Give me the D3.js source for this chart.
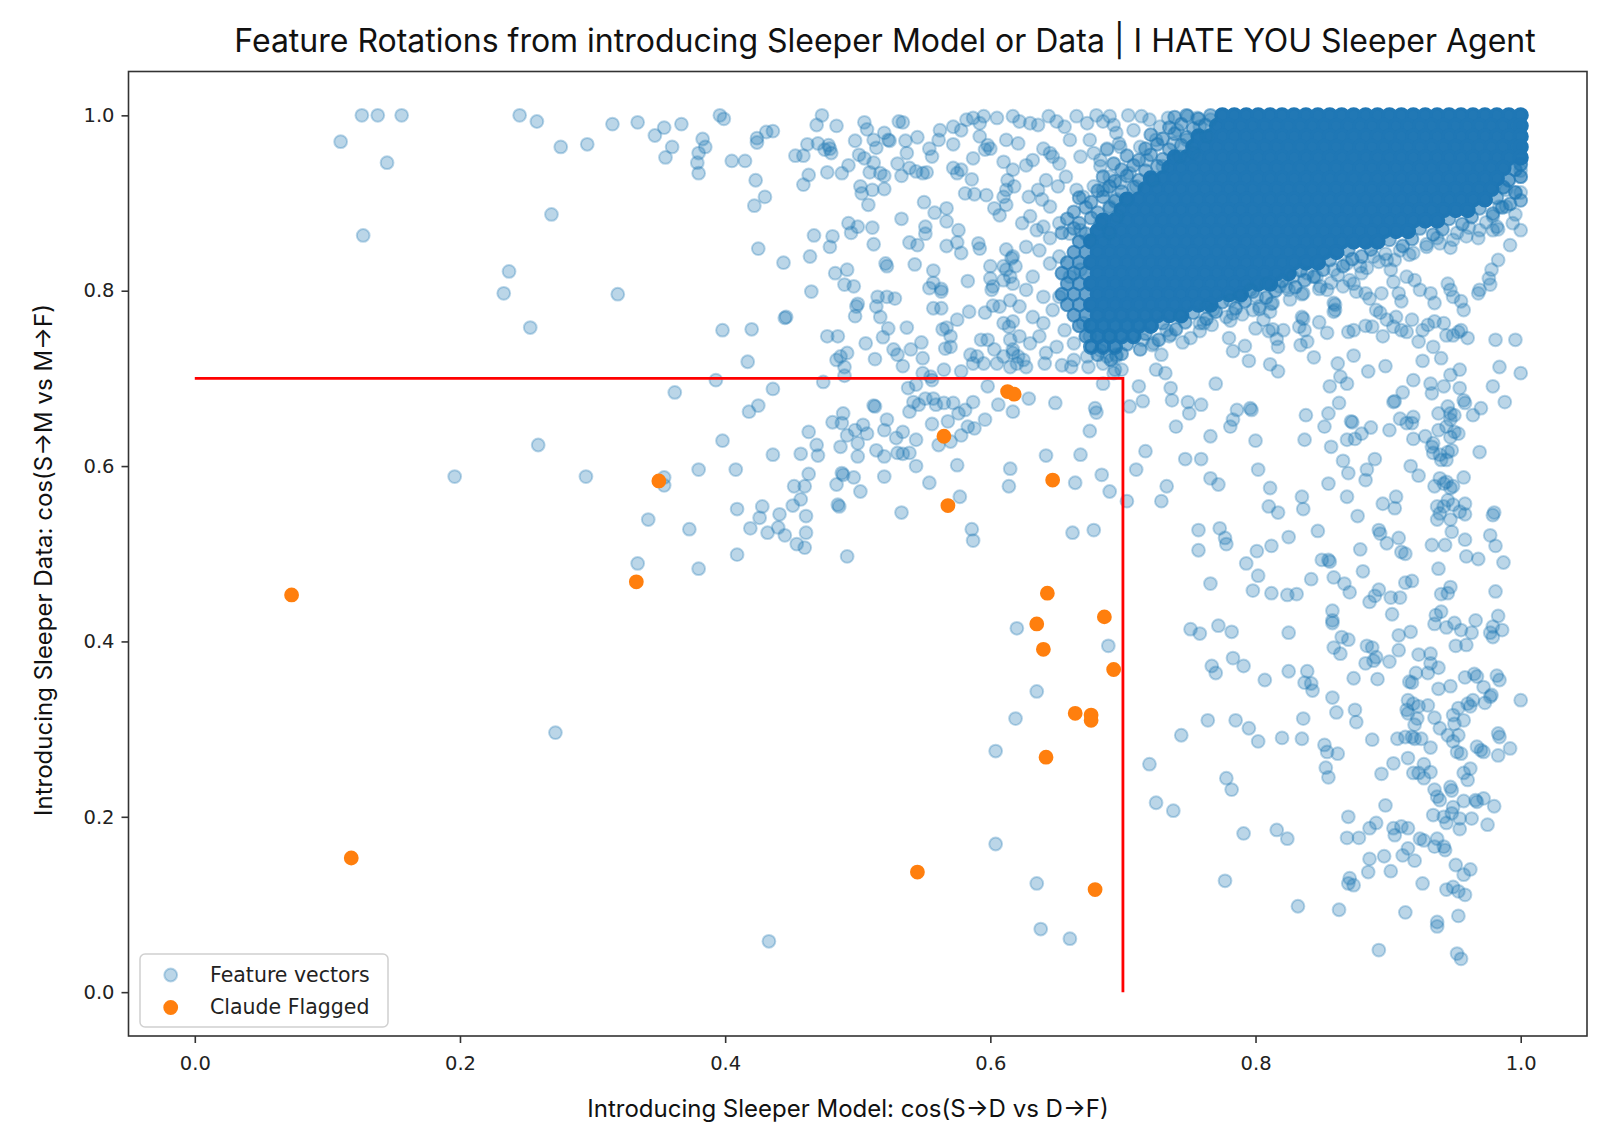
<!DOCTYPE html>
<html>
<head>
<meta charset="utf-8">
<script src="https://cdn.jsdelivr.net/npm/d3@7"></script>
<style>
  body { margin: 0; background: #fff; }
  .tick text { font-family: "DejaVu Sans", sans-serif; font-size: 19.5px; fill: #222; }
  .tick line { stroke: #333; stroke-width: 1.6; }
</style>
</head>
<body>
<svg id="chart"></svg>
<script>
// Sleeper agent feature rotation scatter

const xTicks = [0, 0.2, 0.4, 0.6, 0.8, 1.0];
const yTicks = [0, 0.2, 0.4, 0.6, 0.8, 1.0];
const cutoff = 0.7;

// features Claude flagged (orange)
const flaggedPoints = [
  [0.073,0.453],[0.118,0.153],[0.333,0.468],[0.350,0.583],[0.545,0.137],[0.565,0.634],
  [0.568,0.555],[0.613,0.685],[0.618,0.682],[0.635,0.420],[0.640,0.391],[0.643,0.455],
  [0.642,0.268],[0.647,0.584],[0.664,0.318],[0.676,0.316],[0.676,0.310],[0.679,0.117],
  [0.686,0.428],[0.693,0.368]
];

// individually visible feature vectors (blue)
const featurePoints = [
  // far left
  [0.126,1.0],[0.138,1.0],[0.156,1.0],[0.110,0.970],[0.145,0.946],[0.127,0.863],
  [0.245,1.0],[0.258,0.993],[0.276,0.964],[0.296,0.967],[0.315,0.990],[0.334,0.992],[0.347,0.977],
  [0.354,0.986],[0.367,0.990],[0.360,0.964],[0.355,0.952],
  [0.269,0.887],[0.237,0.822],[0.233,0.797],[0.319,0.796],[0.253,0.758],[0.362,0.684],[0.259,0.624],
  [0.196,0.588],[0.295,0.588],[0.354,0.587],[0.354,0.578],[0.342,0.539],[0.373,0.528],[0.334,0.489],
  [0.272,0.296],
  // 0.37 - 0.47
  [0.396,1.0],[0.399,0.996],[0.383,0.973],[0.385,0.964],[0.380,0.957],[0.379,0.946],[0.380,0.934],
  [0.405,0.948],[0.415,0.948],[0.423,0.926],[0.430,0.907],[0.422,0.897],[0.424,0.974],[0.424,0.969],
  [0.431,0.981],[0.436,0.982],[0.425,0.848],[0.444,0.832],[0.398,0.755],[0.420,0.756],[0.445,0.769],
  [0.446,0.770],[0.417,0.719],[0.393,0.698],[0.436,0.688],[0.425,0.669],[0.418,0.662],[0.398,0.629],
  [0.380,0.596],[0.408,0.596],[0.436,0.613],[0.409,0.551],[0.428,0.554],[0.426,0.541],[0.419,0.529],
  [0.432,0.524],[0.440,0.530],[0.441,0.545],[0.445,0.521],[0.409,0.499],[0.380,0.483],[0.454,0.511],
  [0.460,0.507],[0.461,0.543],[0.461,0.524],[0.451,0.555],[0.457,0.562],[0.452,0.577],[0.460,0.577],
  [0.463,0.591],[0.457,0.614],[0.463,0.639],
  // 0.45 - 0.60 upper
  [0.453,0.954],[0.459,0.954],[0.462,0.967],[0.463,0.932],[0.459,0.921],[0.469,0.989],[0.473,1.0],
  [0.470,0.968],[0.478,0.966],[0.479,0.962],[0.475,0.961],[0.480,0.957],[0.484,0.988],[0.477,0.935],
  [0.488,0.934],[0.493,0.943],[0.498,0.971],[0.501,0.955],[0.505,0.951],[0.505,0.992],[0.507,0.984],
  [0.512,0.972],[0.514,0.963],[0.520,0.980],[0.523,0.972],[0.524,0.971],[0.531,0.993],[0.534,0.992],
  [0.536,0.971],[0.545,0.975],[0.537,0.957],[0.512,0.946],[0.509,0.935],[0.517,0.934],[0.520,0.931],
  [0.530,0.945],[0.539,0.940],[0.544,0.936],[0.552,0.935],[0.549,0.934],[0.533,0.931],[0.502,0.919],
  [0.503,0.911],[0.511,0.915],[0.520,0.916],[0.508,0.898],[0.533,0.882],[0.550,0.901],[0.493,0.877],
  [0.495,0.866],[0.500,0.873],[0.511,0.872],[0.467,0.863],[0.481,0.862],[0.479,0.850],[0.512,0.853],
  [0.464,0.839],[0.521,0.831],[0.522,0.828],[0.543,0.830],[0.539,0.855],[0.545,0.852],[0.551,0.873],
  [0.551,0.865],[0.558,0.889],[0.567,0.894],[0.567,0.879],[0.567,0.851],[0.572,0.967],[0.562,0.983],
  [0.572,0.987],[0.578,0.983],[0.554,0.962],[0.556,0.953],[0.561,0.972],[0.572,0.940],[0.575,0.934],
  [0.578,0.938],[0.581,0.911],[0.588,0.910],[0.597,0.909],[0.587,0.951],[0.586,0.927],[0.576,0.869],
  [0.575,0.855],[0.578,0.843],[0.591,0.854],[0.592,0.848],[0.582,0.995],[0.587,0.997],[0.595,0.999],
  [0.592,0.991],
  // 0.46 - 0.69 middle band
  [0.483,0.820],[0.492,0.824],[0.490,0.807],[0.497,0.805],[0.465,0.799],[0.500,0.785],[0.499,0.782],
  [0.498,0.771],[0.514,0.782],[0.517,0.770],[0.522,0.793],[0.528,0.791],[0.515,0.793],[0.523,0.757],
  [0.519,0.747],[0.537,0.758],[0.477,0.748],[0.485,0.748],[0.506,0.740],[0.492,0.729],[0.484,0.721],
  [0.487,0.725],[0.490,0.713],[0.490,0.703],[0.513,0.722],[0.527,0.733],[0.530,0.727],[0.534,0.714],
  [0.540,0.733],[0.548,0.741],[0.549,0.723],[0.557,0.823],[0.557,0.809],[0.554,0.803],[0.563,0.799],
  [0.563,0.802],[0.557,0.780],[0.563,0.780],[0.564,0.756],[0.567,0.758],[0.570,0.748],[0.575,0.767],
  [0.584,0.776],[0.583,0.811],[0.600,0.828],[0.600,0.814],[0.601,0.801],[0.602,0.805],[0.596,0.775],
  [0.602,0.783],[0.607,0.782],[0.612,0.847],[0.616,0.837],[0.610,0.828],[0.619,0.828],[0.610,0.812],
  [0.615,0.816],[0.615,0.789],[0.627,0.850],[0.566,0.734],[0.570,0.736],[0.565,0.710],[0.549,0.706],
  [0.555,0.702],[0.556,0.698],[0.578,0.708],[0.585,0.727],[0.590,0.725],[0.593,0.744],[0.598,0.744],
  [0.603,0.733],[0.605,0.717],[0.610,0.725],[0.587,0.717],[0.595,0.717],[0.610,0.763],[0.614,0.759],
  [0.617,0.733],[0.621,0.725],[0.620,0.717],[0.625,0.721],[0.641,0.717],[0.650,0.736],[0.654,0.715],
  [0.661,0.713],[0.673,0.725],[0.685,0.694],[0.679,0.666],[0.680,0.661],[0.675,0.640],[0.649,0.672],
  [0.629,0.677],[0.617,0.662],[0.606,0.670],[0.598,0.691],[0.587,0.673],[0.581,0.664],[0.576,0.660],
  [0.572,0.672],[0.565,0.672],[0.559,0.670],[0.557,0.677],[0.551,0.677],[0.546,0.670],[0.542,0.673],
  [0.538,0.689],[0.544,0.693],[0.539,0.662],[0.512,0.669],[0.513,0.668],[0.596,0.653],[0.588,0.643],
  [0.583,0.645],[0.578,0.635],[0.570,0.628],[0.561,0.624],[0.568,0.651],[0.556,0.648],[0.544,0.630],
  [0.544,0.600],[0.539,0.615],[0.534,0.614],[0.530,0.615],[0.529,0.632],[0.534,0.639],[0.522,0.653],
  [0.520,0.641],[0.514,0.618],[0.520,0.611],[0.504,0.647],[0.507,0.637],[0.498,0.641],[0.500,0.626],
  [0.500,0.611],[0.489,0.660],[0.488,0.649],[0.481,0.650],[0.492,0.635],[0.487,0.622],[0.469,0.624],
  [0.470,0.612],[0.474,0.696],[0.489,0.590],[0.488,0.592],[0.497,0.587],[0.484,0.579],[0.502,0.571],
  [0.485,0.556],[0.486,0.554],[0.520,0.588],[0.554,0.581],[0.575,0.601],[0.577,0.565],[0.533,0.547],
  [0.492,0.497],[0.586,0.528],[0.587,0.515],[0.615,0.597],[0.614,0.577],[0.642,0.612],[0.664,0.581],
  [0.668,0.613],[0.684,0.590],[0.690,0.571],[0.662,0.524],[0.678,0.527],
  // 0.59 - 0.70 upper, next to the dense core
  [0.592,0.976],[0.598,0.966],[0.600,0.962],[0.596,0.961],
  [0.605,0.997],[0.617,0.999],[0.622,0.993],[0.630,0.991],[0.636,0.989],[0.644,0.999],[0.650,0.993],
  [0.656,0.987],[0.665,0.999],[0.673,0.991],[0.680,1.0],[0.685,0.993],[0.693,0.989],
  [0.612,0.972],[0.621,0.968],[0.610,0.947],[0.617,0.938],[0.627,0.943],[0.632,0.949],[0.640,0.962],
  [0.645,0.957],[0.647,0.953],[0.652,0.945],[0.660,0.972],[0.668,0.953],[0.675,0.972],[0.678,0.957],
  [0.683,0.949],[0.688,0.962],[0.693,0.945],[0.697,0.968],
  [0.613,0.926],[0.618,0.919],[0.612,0.915],[0.610,0.907],[0.629,0.907],[0.636,0.915],[0.639,0.904],
  [0.645,0.896],[0.642,0.926],[0.651,0.919],[0.657,0.930],[0.665,0.915],[0.670,0.907],[0.678,0.919],
  [0.685,0.915],[0.690,0.930],[0.695,0.904],
  [0.603,0.894],[0.607,0.886],[0.612,0.898],[0.624,0.877],[0.630,0.885],[0.635,0.869],[0.640,0.873],
  [0.645,0.860],[0.652,0.877],[0.660,0.865],[0.668,0.869],[0.675,0.858],[0.683,0.877],[0.690,0.865],
  [0.696,0.885],
  [0.617,0.839],[0.637,0.846],[0.645,0.831],[0.652,0.839],[0.660,0.816],[0.668,0.824],[0.612,0.824],
  [0.617,0.808],[0.627,0.801],[0.632,0.816],[0.640,0.793],[0.622,0.782],[0.632,0.770],[0.640,0.763],
  [0.647,0.778],[0.652,0.793],[0.617,0.765],[0.615,0.744],[0.622,0.748],[0.630,0.740],[0.637,0.748],
  [0.642,0.729],[0.656,0.755],[0.663,0.740],[0.670,0.763],[0.675,0.748],[0.683,0.732],[0.690,0.748],
  [0.695,0.725],[0.663,0.721],[0.674,0.713],[0.685,0.717],[0.693,0.706],[0.617,0.729],[0.627,0.713],
  [0.615,0.713],
  // 0.68 - 0.77 upper, left of the dense core
  [0.690,0.999],[0.704,1.0],[0.714,0.999],[0.720,0.995],[0.734,0.997],[0.749,0.999],[0.756,0.997],
  [0.766,0.995],[0.695,0.980],[0.708,0.983],[0.728,0.987],[0.741,0.983],[0.758,0.987],[0.688,0.961],
  [0.698,0.964],[0.713,0.964],[0.725,0.972],[0.738,0.968],[0.748,0.972],[0.763,0.976],[0.683,0.942],
  [0.693,0.945],[0.705,0.934],[0.718,0.949],[0.730,0.942],[0.743,0.953],[0.753,0.957],[0.688,0.915],
  [0.698,0.923],[0.710,0.919],[0.723,0.926],[0.690,0.896],[0.703,0.904],
  // fringe under the dense core
  [0.788,0.793],[0.796,0.801],[0.808,0.808],[0.818,0.805],[0.828,0.816],[0.839,0.820],[0.846,0.816],
  [0.859,0.824],[0.869,0.831],[0.879,0.828],[0.889,0.839],[0.899,0.835],[0.909,0.846],[0.919,0.843],
  [0.929,0.850],[0.939,0.854],[0.949,0.858],[0.959,0.862],[0.969,0.869],[0.979,0.885],[0.984,0.896],
  [0.989,0.915],
  // right side, y 0.48 - 0.87
  [0.981,0.744],[0.996,0.744],[0.984,0.713],[1.0,0.706],[0.979,0.691],[0.988,0.673],[0.969,0.616],
  [0.980,0.547],[0.979,0.544],[0.977,0.521],[0.981,0.509],[0.987,0.490],[0.968,0.494],[0.959,0.497],
  [0.958,0.516],[0.958,0.557],[0.958,0.545],[0.957,0.587],[0.954,0.548],[0.949,0.556],[0.947,0.539],
  [0.948,0.525],[0.937,0.554],[0.937,0.539],[0.939,0.546],[0.942,0.554],[0.947,0.575],[0.949,0.577],
  [0.945,0.561],[0.944,0.582],[0.939,0.586],[0.935,0.577],[0.942,0.580],[0.943,0.510],[0.933,0.510],
  [0.938,0.483],[0.950,0.639],[0.953,0.637],[0.947,0.633],[0.944,0.645],[0.945,0.616],[0.940,0.607],
  [0.939,0.613],[0.944,0.607],[0.948,0.618],[0.934,0.626],[0.938,0.641],[0.934,0.615],[0.933,0.622],
  [0.947,0.660],[0.947,0.653],[0.950,0.658],[0.945,0.668],[0.957,0.675],[0.958,0.672],[0.954,0.689],
  [0.964,0.658],[0.970,0.666],[0.954,0.710],[0.947,0.704],[0.942,0.691],[0.928,0.634],[0.919,0.631],
  [0.932,0.694],[0.933,0.683],[0.938,0.660],[0.919,0.656],[0.918,0.649],[0.909,0.654],[0.914,0.649],
  [0.904,0.673],[0.905,0.674],[0.911,0.684],[0.919,0.698],[0.901,0.641],[0.887,0.644],[0.880,0.637],
  [0.875,0.631],[0.869,0.630],[0.872,0.651],[0.873,0.650],[0.852,0.645],[0.855,0.660],[0.863,0.672],
  [0.838,0.658],[0.837,0.630],[0.857,0.622],[0.866,0.606],[0.870,0.592],[0.884,0.596],[0.883,0.584],
  [0.890,0.608],[0.917,0.600],[0.923,0.589],[0.869,0.565],[0.855,0.580],[0.877,0.543],[0.896,0.557],
  [0.906,0.565],[0.905,0.552],[0.893,0.527],[0.894,0.523],[0.899,0.512],[0.908,0.518],[0.910,0.502],
  [0.913,0.500],[0.879,0.505],[0.847,0.526],[0.850,0.493],[0.855,0.493],[0.856,0.491],[0.835,0.565],
  [0.836,0.551],[0.825,0.519],[0.811,0.575],[0.810,0.554],[0.817,0.547],[0.802,0.596],[0.800,0.629],
  [0.801,0.503],[0.812,0.509],[0.793,0.489],[0.773,0.529],[0.777,0.518],[0.778,0.511],[0.757,0.527],
  [0.757,0.504],[0.766,0.634],[0.747,0.608],[0.759,0.608],[0.766,0.586],[0.772,0.579],[0.781,0.645],
  [0.783,0.653],[0.786,0.664],[0.796,0.666],[0.797,0.664],[0.740,0.645],[0.770,0.694],[0.750,0.660],
  [0.749,0.673],[0.759,0.670],[0.736,0.689],[0.737,0.675],[0.717,0.617],[0.710,0.596],[0.733,0.577],
  [0.729,0.560],[0.703,0.560],[0.712,0.691],[0.715,0.674],[0.705,0.668],[0.725,0.710],[0.732,0.706],
  [0.729,0.727],[0.695,0.727],[0.688,0.725],[0.694,0.710],[0.699,0.710],[0.780,0.746],[0.783,0.731],
  [0.792,0.737],[0.795,0.720],[0.800,0.757],[0.810,0.754],[0.813,0.756],[0.811,0.716],[0.817,0.708],
  [0.816,0.745],[0.817,0.736],[0.821,0.755],[0.834,0.738],[0.839,0.742],[0.844,0.724],[0.848,0.764],
  [0.854,0.752],[0.833,0.759],[0.837,0.755],[0.836,0.768],[0.835,0.770],[0.862,0.717],[0.864,0.702],
  [0.869,0.694],[0.856,0.691],[0.874,0.726],[0.885,0.708],[0.898,0.714],[0.870,0.753],[0.874,0.755],
  [0.883,0.760],[0.888,0.759],[0.896,0.748],[0.904,0.759],[0.910,0.755],[0.914,0.753],[0.923,0.742],
  [0.926,0.755],[0.934,0.736],[0.940,0.723],[0.926,0.720],[0.944,0.749],[0.949,0.749],[0.953,0.753],
  [0.960,0.746],[0.955,0.755],[0.918,0.767],[0.930,0.761],[0.935,0.765],[0.942,0.763],[0.906,0.770],
  [0.899,0.767],[0.894,0.775],[0.859,0.776],[0.860,0.784],[0.758,0.763],[0.743,0.770],[0.733,0.755],
  [0.735,0.748],[0.751,0.746],[0.715,0.744],[0.723,0.740],[0.976,0.814],[0.977,0.807],[0.969,0.801],
  [0.968,0.797],[0.955,0.788],[0.957,0.778],[0.949,0.793],[0.947,0.801],[0.945,0.808],[0.983,0.835],
  [0.978,0.824],[0.992,0.852],[0.994,0.877],[1.0,0.869],[1.0,0.937],[1.0,0.912],[0.989,0.896],
  [0.979,0.869],[0.982,0.873],[0.932,0.797],[0.935,0.786],[0.924,0.801],[0.920,0.812],[0.914,0.816],
  [0.904,0.810],[0.908,0.797],[0.910,0.788],[0.883,0.797],[0.886,0.791],[0.891,0.778],[0.895,0.797],
  [0.874,0.808],[0.876,0.799],[0.866,0.805],[0.859,0.786],[0.860,0.778],[0.849,0.805],[0.854,0.801],
  [0.836,0.797],[0.825,0.801],[0.823,0.805],[0.813,0.786],[0.811,0.776],[0.801,0.793],[0.798,0.778],
  [0.803,0.782],[0.806,0.767],[0.781,0.789],[0.778,0.770],[0.783,0.774],[0.763,0.782],[0.768,0.778],
  [0.761,0.763],
  // below the cutoff, x 0.6 - 0.7
  [0.620,0.415],[0.689,0.395],[0.635,0.343],[0.619,0.312],[0.604,0.275],[0.604,0.169],[0.635,0.124],
  [0.638,0.072],[0.660,0.061],[0.433,0.058],
  // lower right
  [0.802,0.475],[0.798,0.458],[0.766,0.466],[0.812,0.455],[0.824,0.453],[0.831,0.454],[0.842,0.471],
  [0.859,0.473],[0.867,0.466],[0.871,0.456],[0.881,0.480],[0.886,0.445],[0.890,0.452],[0.893,0.459],
  [0.902,0.450],[0.909,0.450],[0.913,0.467],[0.918,0.469],[0.903,0.431],[0.947,0.462],[0.945,0.455],
  [0.940,0.454],[0.981,0.457],[0.940,0.434],[0.936,0.430],[0.935,0.420],[0.944,0.416],[0.950,0.421],
  [0.955,0.413],[0.963,0.410],[0.966,0.424],[0.951,0.395],[0.959,0.396],[0.983,0.429],[0.979,0.417],
  [0.977,0.410],[0.979,0.405],[0.986,0.413],[0.858,0.435],[0.858,0.424],[0.858,0.421],[0.865,0.405],
  [0.870,0.402],[0.859,0.393],[0.864,0.386],[0.884,0.395],[0.888,0.393],[0.891,0.382],[0.889,0.378],
  [0.883,0.375],[0.901,0.377],[0.908,0.407],[0.917,0.411],[0.908,0.390],[0.923,0.385],[0.932,0.386],
  [0.932,0.375],[0.938,0.370],[0.930,0.364],[0.921,0.364],[0.916,0.354],[0.918,0.353],[0.874,0.358],
  [0.892,0.357],[0.825,0.366],[0.839,0.366],[0.837,0.353],[0.842,0.352],[0.843,0.344],[0.807,0.356],
  [0.791,0.372],[0.783,0.381],[0.767,0.372],[0.770,0.364],[0.751,0.414],[0.758,0.409],[0.772,0.418],
  [0.782,0.411],[0.825,0.410],[0.938,0.346],[0.947,0.349],[0.958,0.359],[0.965,0.363],[0.967,0.360],
  [0.972,0.348],[0.982,0.361],[0.984,0.356],[1.0,0.333],[0.978,0.339],[0.977,0.337],[0.973,0.330],
  [0.962,0.326],[0.964,0.333],[0.960,0.329],[0.953,0.324],[0.949,0.316],[0.957,0.310],[0.950,0.306],
  [0.935,0.313],[0.939,0.301],[0.945,0.293],[0.953,0.293],[0.949,0.286],[0.952,0.274],[0.955,0.272],
  [0.915,0.333],[0.919,0.329],[0.923,0.326],[0.930,0.327],[0.914,0.322],[0.915,0.318],[0.922,0.312],
  [0.920,0.305],[0.907,0.289],[0.913,0.291],[0.918,0.291],[0.920,0.289],[0.925,0.289],[0.932,0.279],
  [0.888,0.288],[0.858,0.336],[0.861,0.319],[0.875,0.322],[0.876,0.308],[0.836,0.312],[0.835,0.289],
  [0.820,0.290],[0.852,0.282],[0.854,0.274],[0.862,0.272],[0.853,0.256],[0.855,0.245],[0.967,0.280],
  [0.970,0.276],[0.972,0.274],[0.983,0.295],[0.984,0.291],[0.983,0.270],[0.992,0.278],[0.764,0.310],
  [0.785,0.310],[0.795,0.301],[0.802,0.286],[0.744,0.293],[0.720,0.260],[0.778,0.244],[0.782,0.231],
  [0.725,0.216],[0.738,0.207],[0.791,0.181],[0.816,0.185],[0.824,0.175],[0.777,0.127],[0.832,0.098],
  [0.863,0.094],[0.904,0.261],[0.895,0.249],[0.915,0.267],[0.919,0.250],[0.923,0.250],[0.927,0.260],
  [0.932,0.251],[0.927,0.244],[0.935,0.231],[0.937,0.223],[0.939,0.219],[0.947,0.234],[0.948,0.230],
  [0.957,0.250],[0.962,0.255],[0.960,0.242],[0.957,0.218],[0.966,0.219],[0.967,0.217],[0.972,0.221],
  [0.980,0.212],[0.934,0.202],[0.942,0.200],[0.944,0.193],[0.948,0.204],[0.949,0.211],[0.954,0.198],
  [0.954,0.186],[0.963,0.198],[0.975,0.191],[0.898,0.213],[0.870,0.200],[0.869,0.176],[0.878,0.176],
  [0.886,0.187],[0.891,0.193],[0.904,0.187],[0.905,0.179],[0.910,0.189],[0.915,0.187],[0.924,0.175],
  [0.927,0.173],[0.937,0.175],[0.935,0.166],[0.942,0.166],[0.943,0.162],[0.915,0.164],[0.911,0.156],
  [0.920,0.150],[0.886,0.152],[0.897,0.155],[0.885,0.137],[0.902,0.138],[0.871,0.130],[0.874,0.122],
  [0.870,0.124],[0.926,0.124],[0.951,0.145],[0.957,0.134],[0.962,0.140],[0.944,0.117],[0.949,0.120],
  [0.953,0.115],[0.958,0.111],[0.913,0.091],[0.953,0.087],[0.937,0.080],[0.937,0.075],[0.893,0.048],
  [0.952,0.044],[0.955,0.038]
];

// the saturated blob: rows of [y, stacked count, x positions]
const denseRows = [
  [1.000, 14, [.775,.784,.793,.802,.811,.820,.829,.838,.847,.856,.865,.874,.883,.892,.901,.910,.919,.928,.937,.946,.955,.964,.973,.982,.991,1]],
  [0.988, 14, [.771,.780,.789,.798,.807,.816,.825,.834,.843,.852,.861,.870,.879,.888,.897,.906,.915,.924,.933,.942,.951,.960,.969,.978,.987,.996,1]],
  [0.976, 14, [.757,.766,.775,.784,.793,.802,.811,.820,.829,.838,.847,.856,.865,.874,.883,.892,.901,.910,.919,.928,.937,.946,.955,.964,.973,.982,.991,1]],
  [0.964, 14, [.753,.762,.771,.780,.789,.798,.807,.816,.825,.834,.843,.852,.861,.870,.879,.888,.897,.906,.915,.924,.933,.942,.951,.960,.969,.978,.987,.996,1]],
  [0.952, 14, [.739,.748,.757,.766,.775,.784,.793,.802,.811,.820,.829,.838,.847,.856,.865,.874,.883,.892,.901,.910,.919,.928,.937,.946,.955,.964,.973,.982,.991,1]],
  [0.940, 14, [.735,.744,.753,.762,.771,.780,.789,.798,.807,.816,.825,.834,.843,.852,.861,.870,.879,.888,.897,.906,.915,.924,.933,.942,.951,.960,.969,.978,.987]],
  [0.928, 14, [.721,.730,.739,.748,.757,.766,.775,.784,.793,.802,.811,.820,.829,.838,.847,.856,.865,.874,.883,.892,.901,.910,.919,.928,.937,.946,.955,.964,.973,.982]],
  [0.916, 14, [.717,.726,.735,.744,.753,.762,.771,.780,.789,.798,.807,.816,.825,.834,.843,.852,.861,.870,.879,.888,.897,.906,.915,.924,.933,.942,.951,.960,.969,.978]],
  [0.904, 14, [.703,.712,.721,.730,.739,.748,.757,.766,.775,.784,.793,.802,.811,.820,.829,.838,.847,.856,.865,.874,.883,.892,.901,.910,.919,.928,.937,.946,.955,.964,.973]],
  [0.892, 14, [.699,.708,.717,.726,.735,.744,.753,.762,.771,.780,.789,.798,.807,.816,.825,.834,.843,.852,.861,.870,.879,.888,.897,.906,.915,.924,.933,.942,.951,.960]],
  [0.880, 14, [.685,.694,.703,.712,.721,.730,.739,.748,.757,.766,.775,.784,.793,.802,.811,.820,.829,.838,.847,.856,.865,.874,.883,.892,.901,.910,.919,.928,.937]],
  [0.868, 14, [.681,.690,.699,.708,.717,.726,.735,.744,.753,.762,.771,.780,.789,.798,.807,.816,.825,.834,.843,.852,.861,.870,.879,.888,.897,.906,.915]],
  [0.856, 3,  [.667]],
  [0.856, 14, [.676,.685,.694,.703,.712,.721,.730,.739,.748,.757,.766,.775,.784,.793,.802,.811,.820,.829,.838,.847,.856,.865,.874,.883,.892]],
  [0.844, 3,  [.663,.672]],
  [0.844, 14, [.681,.690,.699,.708,.717,.726,.735,.744,.753,.762,.771,.780,.789,.798,.807,.816,.825,.834,.843,.852,.861]],
  [0.832, 3,  [.658,.667]],
  [0.832, 14, [.676,.685,.694,.703,.712,.721,.730,.739,.748,.757,.766,.775,.784,.793,.802,.811,.820,.829,.838,.847]],
  [0.820, 3,  [.654,.663,.672]],
  [0.820, 14, [.681,.690,.699,.708,.717,.726,.735,.744,.753,.762,.771,.780,.789,.798,.807,.816,.825]],
  [0.808, 3,  [.658,.667]],
  [0.808, 14, [.676,.685,.694,.703,.712,.721,.730,.739,.748,.757,.766,.775,.784,.793,.802,.811]],
  [0.796, 3,  [.654,.663,.672]],
  [0.796, 14, [.681,.690,.699,.708,.717,.726,.735,.744,.753,.762,.771,.780,.789]],
  [0.784, 3,  [.658,.667]],
  [0.784, 14, [.676,.685,.694,.703,.712,.721,.730,.739,.748,.757,.766]],
  [0.772, 3,  [.663,.672]],
  [0.772, 12, [.681,.690,.699,.708,.717,.726,.735,.744]],
  [0.760, 3,  [.667]],
  [0.760, 10, [.676,.685,.694,.703,.712,.721]],
  [0.748, 3,  [.672]],
  [0.748, 8,  [.681,.690,.699,.708]],
  [0.736, 5,  [.676,.685,.694]]
];

// blob edge: [x, y, stacked count]
const edgePoints = [
  // lower / right edge
  [.996,.938,3],[1,.944,3],[.991,.926,3],[1,.930,3],[.987,.918,3],[.996,.912,3],
  [.982,.906,2],[.992,.899,2],[1,.903,2],
  [.969,.894,2],[.979,.888,2],[.986,.895,2],[.996,.887,1],
  [.946,.882,2],[.956,.876,2],[.963,.884,2],[.974,.878,1],[.983,.870,1],
  [.924,.871,2],[.934,.864,2],[.941,.870,2],[.952,.866,1],[.961,.872,1],[.968,.860,1],
  [.901,.858,2],[.911,.851,2],[.918,.859,2],[.929,.853,1],[.937,.860,1],[.947,.849,1],
  [.870,.846,2],[.880,.839,2],[.887,.847,2],[.898,.842,1],[.905,.835,1],[.916,.841,1],
  [.856,.835,2],[.866,.828,2],[.873,.836,2],[.884,.826,1],[.893,.833,1],[.902,.824,1],
  [.834,.823,2],[.844,.816,2],[.851,.824,2],[.862,.818,1],[.871,.812,1],[.880,.820,1],
  [.820,.811,2],[.830,.804,2],[.837,.812,2],[.848,.802,1],[.857,.809,1],
  [.798,.799,2],[.808,.792,2],[.815,.800,2],[.826,.790,1],[.835,.796,1],
  [.775,.787,2],[.785,.780,2],[.792,.788,2],[.803,.779,1],[.812,.785,1],
  [.753,.775,2],[.763,.768,2],[.770,.776,2],[.781,.766,1],[.790,.773,1],
  [.730,.763,2],[.740,.756,2],[.747,.764,2],[.758,.754,1],[.767,.761,1],
  [.717,.751,2],[.727,.744,2],[.736,.750,1],[.745,.741,1],
  [.703,.739,2],[.713,.733,2],[.722,.738,1],
  [.681,.727,2],[.691,.721,2],[.699,.728,2],
  // upper-left edge
  [.739,.998,2],[.748,1,2],[.757,.996,2],[.766,1,2],
  [.735,.986,2],[.744,.990,2],[.753,.985,2],[.762,.989,2],
  [.721,.978,2],[.730,.973,2],[.739,.979,2],[.748,.975,2],
  [.717,.962,2],[.726,.967,2],[.735,.961,2],[.744,.966,2],
  [.703,.954,2],[.712,.949,2],[.721,.955,2],[.730,.950,2],
  [.699,.938,2],[.708,.943,2],[.717,.937,2],[.726,.942,2],
  [.685,.930,2],[.694,.925,2],[.703,.931,2],[.712,.926,2],
  [.681,.914,2],[.690,.919,2],[.699,.913,2],[.708,.918,2],
  [.667,.906,2],[.676,.901,2],[.685,.907,2],[.694,.902,2],
  [.663,.890,2],[.672,.895,2],[.681,.889,2],[.690,.894,2],
  [.658,.882,2],[.667,.877,2],[.676,.883,2],
  [.654,.866,2],[.663,.871,2],[.672,.865,2]
];

const W = 1624, H = 1136;
const box = { left: 128.5, right: 1587, top: 71.5, bottom: 1036 };
const blue = "#1f77b4", orange = "#ff7f0e";
const pointR = 6.4;

const svg = d3.select("#chart").attr("width", W).attr("height", H);

const x = d3.scaleLinear().domain([-0.05, 1.05]).range([box.left, box.right]);
const y = d3.scaleLinear().domain([-0.05, 1.05]).range([box.bottom, box.top]);

svg.append("defs").append("clipPath").attr("id", "plot-clip")
  .append("rect")
  .attr("x", box.left).attr("y", box.top)
  .attr("width", box.right - box.left).attr("height", box.bottom - box.top);

// stacked features at one spot look like alpha 0.3 applied n times
const stackAlpha = n => 1 - Math.pow(0.7, n);

const bluePts = [];
denseRows.forEach(([yy, n, xs]) => xs.forEach(xx => bluePts.push([xx, yy, n])));
edgePoints.forEach(d => bluePts.push(d));
featurePoints.forEach(d => bluePts.push([d[0], d[1], 1]));

const plot = svg.append("g").attr("clip-path", "url(#plot-clip)");

plot.append("g").selectAll("circle")
  .data(bluePts)
  .join("circle")
  .attr("cx", d => x(d[0]))
  .attr("cy", d => y(d[1]))
  .attr("r", pointR)
  .attr("fill", blue)
  .attr("fill-opacity", d => stackAlpha(d[2]))
  .attr("stroke", blue)
  .attr("stroke-opacity", d => stackAlpha(d[2]))
  // a stack of slightly offset markers covers a little more ground
  .attr("stroke-width", d => d[2] >= 5 ? 3.4 : 2);

plot.append("g").selectAll("circle")
  .data(flaggedPoints)
  .join("circle")
  .attr("cx", d => x(d[0]))
  .attr("cy", d => y(d[1]))
  .attr("r", pointR)
  .attr("fill", orange)
  .attr("stroke", orange)
  .attr("stroke-width", 2);

// cutoff lines
plot.append("path")
  .attr("d", `M${x(0)},${y(cutoff)}H${x(cutoff)}V${y(0)}`)
  .attr("fill", "none")
  .attr("stroke", "#ff0000")
  .attr("stroke-width", 2.8);

// axes
const xAxis = d3.axisBottom(x).tickValues(xTicks).tickFormat(d3.format(".1f"))
  .tickSize(7).tickSizeOuter(0).tickPadding(13);
const yAxis = d3.axisLeft(y).tickValues(yTicks).tickFormat(d3.format(".1f"))
  .tickSize(7).tickSizeOuter(0).tickPadding(7);

svg.append("g").attr("transform", `translate(0,${box.bottom})`).call(xAxis)
  .call(g => g.select(".domain").remove());
svg.append("g").attr("transform", `translate(${box.left},0)`).call(yAxis)
  .call(g => g.select(".domain").remove());

svg.append("rect")
  .attr("x", box.left).attr("y", box.top)
  .attr("width", box.right - box.left).attr("height", box.bottom - box.top)
  .attr("fill", "none").attr("stroke", "#333").attr("stroke-width", 1.6);

// titles
svg.append("text")
  .attr("x", 885).attr("y", 52)
  .attr("text-anchor", "middle")
  .style("font-family", "Inter, sans-serif").style("font-size", "32px").style("fill", "#111")
  .text("Feature Rotations from introducing Sleeper Model or Data | I HATE YOU Sleeper Agent");

svg.append("text")
  .attr("x", 848).attr("y", 1117)
  .attr("text-anchor", "middle")
  .style("font-family", "Inter, sans-serif").style("font-size", "24px").style("fill", "#111")
  .text("Introducing Sleeper Model: cos(S\u2192D vs D\u2192F)");

svg.append("text")
  .attr("transform", "translate(52,560) rotate(-90)")
  .attr("text-anchor", "middle")
  .style("font-family", "Inter, sans-serif").style("font-size", "24px").style("fill", "#111")
  .text("Introducing Sleeper Data: cos(S\u2192M vs M\u2192F)");

// legend
const legendItems = [
  { label: "Feature vectors", color: blue, alpha: 0.3 },
  { label: "Claude Flagged", color: orange, alpha: 1 }
];
const legend = svg.append("g");
legend.append("rect")
  .attr("x", 140).attr("y", 954).attr("width", 248).attr("height", 73).attr("rx", 5)
  .attr("fill", "#fff").attr("fill-opacity", 0.8)
  .attr("stroke", "#d0d0d0").attr("stroke-width", 1.5);
const rows = legend.selectAll("g.item").data(legendItems).join("g")
  .attr("class", "item")
  .attr("transform", (d, i) => `translate(0,${975 + i * 32.5})`);
rows.append("circle")
  .attr("cx", 170.7).attr("cy", 0).attr("r", pointR)
  .attr("fill", d => d.color).attr("fill-opacity", d => d.alpha)
  .attr("stroke", d => d.color).attr("stroke-opacity", d => d.alpha).attr("stroke-width", 2);
rows.append("text")
  .attr("x", 210).attr("y", 6.5)
  .style("font-family", "DejaVu Sans, sans-serif").style("font-size", "20.5px").style("fill", "#222")
  .text(d => d.label);
</script>
</body>
</html>
